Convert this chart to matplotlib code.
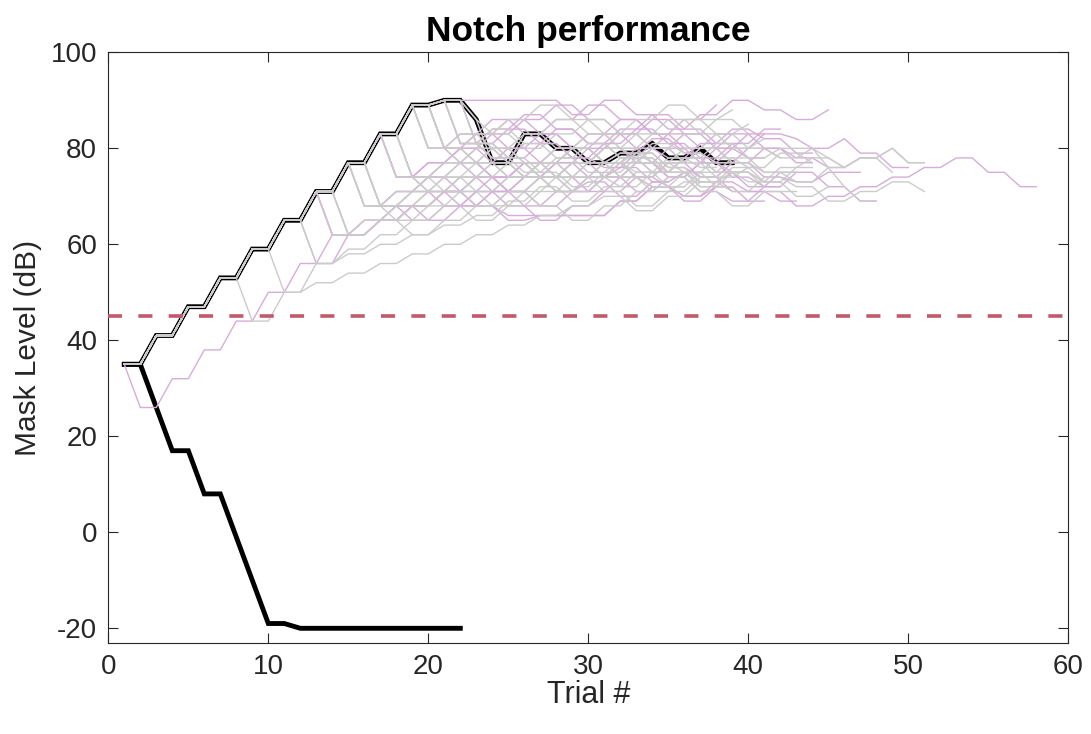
import matplotlib
matplotlib.use("Agg")
import matplotlib.pyplot as plt

plt.rcParams['font.family'] = ['Liberation Sans', 'DejaVu Sans']
plt.rcParams['axes.unicode_minus'] = False

# Shared opening climb of the adaptive tracks (trials 1-22)
climb = [35, 35, 41, 41, 47, 47, 53, 53, 59, 59, 65, 65, 71, 71, 77, 77,
         83, 83, 89, 89, 90, 90]

# Highlighted tracks
track_up = climb + [86, 77, 77, 83, 83, 80, 80, 77, 77, 79, 79, 81, 78, 78,
                    80, 77, 77]
track_down = [35, 35, 26, 17, 17, 8, 8, -1, -10, -19, -19, -20, -20, -20,
              -20, -20, -20, -20, -20, -20, -20, -20]

# Criterion level
criterion = 45

# Background tracks: number of opening trials shared with `climb`, then the rest
pink_split = [1, 13, 16, 18, 20, 22, 19, 17, 15, 21, 14, 18, 16, 20, 12, 22,
              19, 21, 17, 13, 15, 20, 17, 22, 13]
pink_tails = [
    [26, 26, 32, 32, 38, 38, 44, 44, 50, 50, 56, 56, 62, 62, 62, 65, 65, 68,
     68, 71, 71, 68, 68, 66, 66, 66, 66, 66, 66, 66, 69, 69, 72, 72, 70, 70,
     72, 72, 69, 69],
    [62, 62, 62, 65, 65, 68, 68, 71, 71, 74, 74, 71, 71, 68, 68, 71, 71, 74,
     74, 77, 77, 74, 74, 71, 71, 69, 69, 72, 72],
    [68, 68, 71, 71, 68, 68, 71, 71, 74, 74, 77, 77, 80, 80, 77, 77, 74, 74,
     77, 77, 80, 80, 83, 83, 80, 80, 77, 77],
    [74, 74, 77, 77, 80, 80, 77, 77, 74, 74, 71, 71, 74, 74, 77, 77, 80, 80,
     77, 77, 74, 74, 72, 72, 75, 75, 72, 72, 69, 69],
    [80, 80, 77, 77, 80, 80, 83, 83, 80, 80, 77, 77, 74, 74, 77, 77, 74, 74,
     71, 71, 71, 71, 68, 68, 70, 70, 72, 72, 74, 74, 76, 76, 78, 78, 75, 75,
     72, 72],
    [90, 90, 90, 90, 90, 90, 87, 87, 90, 90, 87, 87, 84, 84, 87, 87, 90, 90,
     88, 88, 86, 86, 88],
    [80, 80, 83, 83, 86, 86, 83, 83, 86, 86, 89, 89, 86, 86, 83, 83, 86, 86,
     89],
    [74, 74, 77, 77, 80, 80, 77, 77, 74, 74, 77, 77, 80, 80, 83, 83, 80, 80,
     77, 77, 80, 80, 83, 83],
    [68, 68, 71, 71, 74, 74, 71, 71, 74, 74, 77, 77, 74, 74, 71, 71, 74, 74,
     72, 72, 70, 70, 73, 73, 71, 71, 69, 69],
    [81, 81, 84, 84, 87, 87, 84, 84, 81, 81, 84, 84, 87, 87, 84, 84, 81, 81,
     78, 78],
    [62, 62, 65, 65, 68, 68, 71, 71, 74, 74, 71, 71, 74, 74, 77, 77, 80, 80,
     77, 77, 74, 74, 77, 77, 75, 75],
    [74, 74, 77, 77, 74, 74, 71, 71, 74, 74, 77, 77, 74, 74, 71, 71, 74, 74,
     77, 77, 80, 80, 83, 83, 82, 80, 80, 82, 79, 79, 76, 76],
    [68, 68, 65, 65, 68, 68, 71, 71, 68, 68, 65, 65, 68, 68, 71, 71, 74, 74,
     72, 72],
    [80, 80, 83, 83, 80, 80, 77, 77, 74, 74, 77, 77, 80, 80, 83, 83, 80, 80,
     77, 77, 74, 74, 73, 73, 75, 75, 75],
    [56, 56, 62, 62, 65, 65, 68, 68, 71, 71, 68, 68, 65, 65, 66, 66, 66, 66,
     66, 69, 69, 72, 72, 69, 69, 72, 72],
    [81, 81, 84, 84, 81, 81, 78, 78, 81, 81, 84, 84, 81, 81, 78, 78, 81, 81,
     84, 84],
    [80, 80, 77, 77, 74, 74, 77, 77, 80, 80, 83, 83, 86, 86, 83, 83, 80, 80,
     83, 83],
    [81, 81, 78, 78, 81, 81, 84, 84, 81, 81, 78, 78, 75, 75, 78, 78, 75, 75,
     72, 72, 75, 75],
    [74, 74, 77, 77, 80, 80, 83, 83, 86, 86, 89, 89, 86, 86, 83, 83, 86, 86,
     83, 83],
    [62, 62, 65, 65, 68, 68, 71, 71, 68, 68, 71, 71, 74, 74, 77, 77, 74, 74,
     77, 77, 80, 80, 83, 83, 80, 80, 78],
    [68, 68, 71, 71, 74, 74, 77, 77, 74, 74, 77, 77, 80, 80, 77, 77, 79, 79,
     82, 82, 79, 79, 77, 77, 80, 80, 78],
    [80, 80, 83, 83, 86, 86, 83, 83, 80, 80, 83, 83, 80, 80, 78, 78, 81, 81,
     84, 84, 82, 82, 79, 79],
    [74, 74, 71, 71, 74, 74, 71, 71, 68, 68, 71, 71, 73, 73, 70, 70, 73, 73,
     75, 75],
    [81, 81, 78, 78, 81, 81, 78, 78, 76, 76, 79, 79, 76, 76, 74, 74, 77, 77,
     80, 80, 78, 78, 76, 76],
    [62, 62, 65, 65, 68, 68, 65, 65, 68, 68, 71, 71, 74, 74, 71, 71, 74, 74,
     76, 76, 73, 73],
]

gray_split = [10, 8, 13, 15, 17, 19, 21, 22, 14, 18, 20, 16, 12, 33, 22, 15,
              20, 16, 18, 19, 21, 14]
gray_tails = [
    [50, 50, 52, 52, 54, 54, 56, 56, 58, 58, 60, 60, 62, 62, 64, 64, 66, 66,
     68, 68, 70, 70, 67, 67, 70, 70, 73, 73, 71, 71, 74, 74, 72, 72, 69, 69,
     71, 71, 73, 73, 71],
    [44, 44, 50, 50, 56, 56, 58, 58, 60, 60, 62, 62, 64, 64, 66, 66, 69, 69,
     72, 72, 69, 69, 72, 72, 75, 75, 72, 72, 75, 75, 78, 78, 75, 75, 73, 73,
     76, 76, 78, 78, 80, 77, 77],
    [62, 62, 65, 65, 68, 68, 71, 71, 74, 74, 77, 77, 74, 74, 71, 71, 74, 74,
     77, 77, 80, 80, 77, 77, 74, 74, 76],
    [68, 68, 71, 71, 74, 74, 77, 77, 80, 80, 77, 77, 80, 80, 83, 83, 80, 80,
     77, 77, 80, 80, 83, 83, 85],
    [74, 74, 71, 71, 74, 74, 77, 77, 74, 74, 71, 71, 74, 74, 72, 72, 75, 75,
     78, 78, 75, 75, 73, 73, 76, 76, 78, 78, 76, 78, 78, 75],
    [80, 80, 77, 77, 80, 80, 83, 83, 86, 86, 83, 83, 80, 80, 83, 83, 86, 86,
     83, 83, 80, 80, 78, 78, 80, 78, 76, 78, 78, 80, 77, 77],
    [81, 81, 78, 78, 75, 75, 78, 78, 81, 81, 78, 78, 75, 75, 78, 78, 81, 81,
     78, 78, 80, 80, 80, 76, 72, 69, 69],
    [86, 83, 83, 80, 80, 83, 83, 86, 86, 83, 83, 80, 80, 83, 83, 86, 86, 83],
    [62, 62, 65, 65, 62, 62, 65, 65, 68, 68, 71, 71, 68, 68, 65, 65, 68, 68,
     71, 71, 74, 74, 71, 71, 68, 68, 71, 71, 71],
    [74, 74, 77, 77, 80, 80, 77, 77, 74, 74, 77, 77, 80, 80, 83, 83, 86, 86,
     83, 83, 80, 80, 82],
    [80, 80, 77, 77, 74, 74, 77, 77, 80, 80, 77, 77, 74, 74, 77, 77, 80, 80,
     77, 77, 75, 75, 75],
    [68, 68, 71, 71, 74, 74, 71, 71, 74, 74, 77, 77, 74, 74, 77, 77, 79, 79,
     76, 76, 73, 73, 75, 75, 72],
    [56, 56, 59, 59, 62, 62, 65, 65, 68, 68, 65, 65, 68, 68, 71, 71, 74, 74,
     71, 71, 68, 68, 71, 71, 74, 74],
    [77, 77, 75, 75, 72, 72],
    [81, 81, 78, 78, 75, 75, 72, 72, 75, 75, 78, 78, 75, 75, 72, 72, 75, 75,
     73, 73, 76, 76],
    [68, 68, 65, 65, 68, 68, 71, 71, 68, 68, 71, 71, 74, 74, 77, 77, 74, 74,
     71, 71, 73, 73],
    [80, 80, 83, 83, 86, 86, 89, 89, 86, 86, 83, 83, 86, 86, 89, 89, 86, 86,
     88],
    [68, 68, 71, 71, 74, 74, 77, 77, 74, 74, 77, 77, 80, 80, 77, 77, 75, 75,
     78, 78, 76, 76],
    [74, 74, 71, 71, 68, 68, 71, 71, 74, 74, 71, 71, 74, 74, 77, 77, 75, 75,
     72, 72, 75, 75, 73, 73],
    [80, 80, 83, 83, 80, 80, 77, 77, 74, 74, 77, 77, 74, 74, 72, 72, 75, 75,
     78, 78, 76, 76, 79, 79, 77],
    [81, 81, 84, 84, 81, 81, 78, 78, 75, 75, 78, 78, 81, 81, 79, 79, 77, 77],
    [62, 62, 65, 65, 68, 68, 71, 71, 74, 74, 77, 77, 74, 74, 77, 77, 80, 80,
     78, 78, 75, 75, 73, 73, 76, 76, 73, 73, 70, 70, 72],
]

PINK = '#d6acd9'
GRAY = '#cbcbcb'
BLACK = '#000000'
RED = '#c05a6b'
AX_COLOR = '#262626'

fig = plt.figure(figsize=(10.91, 7.34), dpi=100)
ax = fig.add_axes([108.3 / 1091, 1 - 642.7 / 734, 960 / 1091, 590.4 / 734])

# Highlighted tracks underneath the thin ones
ax.plot(range(1, len(track_down) + 1), track_down, color=BLACK, lw=3.5,
        solid_joinstyle='miter', zorder=2)
ax.plot(range(1, len(track_up) + 1), track_up, color=BLACK, lw=3.5,
        solid_joinstyle='miter', zorder=2)


def full_track(split, tail):
    base = track_up if split > len(climb) else climb
    return base[:split] + tail


# Thin tracks: pink set first, grey set drawn over it
for tails, splits, col in ((pink_tails, pink_split, PINK),
                           (gray_tails, gray_split, GRAY)):
    for split, tail in zip(splits, tails):
        vals = full_track(split, tail)
        ax.plot(range(1, len(vals) + 1), vals, color=col, lw=1.0, zorder=3)

ax.axhline(criterion, color=RED, lw=2.6, linestyle=(0, (3.9, 4.5)), zorder=4)

ax.set_xlim(0, 60)
ax.set_ylim(-23, 100)
ax.set_xticks([0, 10, 20, 30, 40, 50, 60])
ax.set_yticks([-20, 0, 20, 40, 60, 80, 100])

for s in ax.spines.values():
    s.set_color(AX_COLOR)
    s.set_linewidth(0.8)
ax.tick_params(direction='in', length=7, width=0.8, color=AX_COLOR,
               labelcolor=AX_COLOR, labelsize=20, top=True, right=True,
               pad=8)

ax.set_title('Notch performance', fontsize=25.5, fontweight='bold',
             color='black', pad=8)
ax.set_xlabel('Trial #', fontsize=22, color=AX_COLOR, labelpad=0)
ax.set_ylabel('Mask Level (dB)', fontsize=21.5, color=AX_COLOR, labelpad=6)

fig.savefig('out.png', dpi=100)
